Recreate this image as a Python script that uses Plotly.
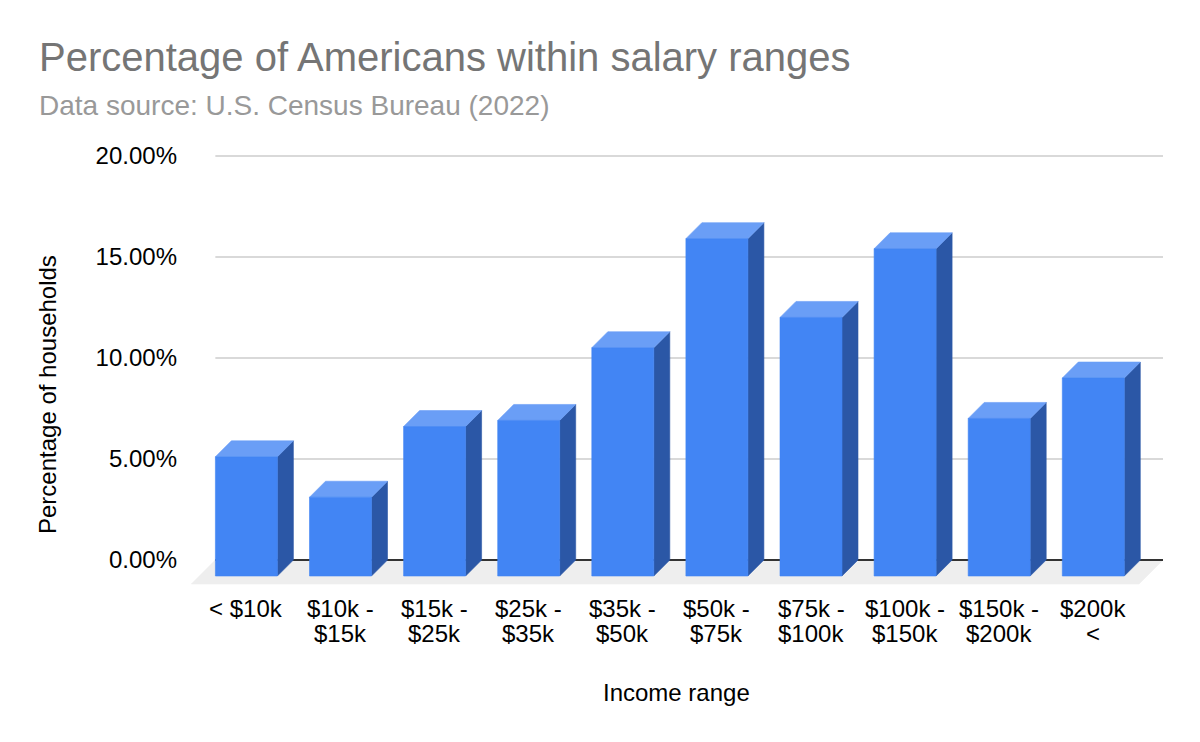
import plotly.graph_objects as go

# ---------------- data ----------------
categories = ["< $10k", "$10k - $15k", "$15k - $25k", "$25k - $35k", "$35k - $50k",
              "$50k - $75k", "$75k - $100k", "$100k - $150k", "$150k - $200k", "$200k <"]
label_line1 = ["< $10k", "$10k -", "$15k -", "$25k -", "$35k -",
               "$50k -", "$75k -", "$100k -", "$150k -", "$200k"]
label_line2 = ["", "$15k", "$25k", "$35k", "$50k",
               "$75k", "$100k", "$150k", "$200k", "<"]
values = [5.9, 3.9, 7.4, 7.7, 11.3, 16.7, 12.8, 16.2, 7.8, 9.8]
y_ticks = [0, 5, 10, 15, 20]
y_tick_labels = [f"{v:.2f}%" for v in y_ticks]

title_text = "Percentage of Americans within salary ranges"
subtitle_text = "Data source: U.S. Census Bureau (2022)"
x_title = "Income range"
y_title = "Percentage of households"

# ---------------- geometry / style (pixels, in screenshot coordinates) ----------------
PAGE_OFFSET = 8                            # browser body margin
W, H = 1200 - PAGE_OFFSET, 742 - PAGE_OFFSET
PL, PR, PT, PB = 190, 1163, 155, 585      # plot area in screenshot px
CAT_PX = 94.1                              # px per category
CAT0_PX = 262.4                            # px of category 0 centre (back plane)
Y0_PX = 560.0                              # px of 0%
Y_PX_PER = 20.2                            # px per 1%
BAR_HALF_PX = 31
DEPTH_PX = 16
FLOOR_PX = 24

FRONT = "#4285F4"
TOP = "#6A9EF6"
SIDE = "#2B57A6"
FLOOR = "#EEEEEE"
GRID = "#CCCCCC"
FONT = "Liberation Sans, Arial, Helvetica, sans-serif"

def px_to_x(px):
    return (px - CAT0_PX) / CAT_PX

def py_to_y(py):
    return (Y0_PX - py) / Y_PX_PER

xr = [px_to_x(PL), px_to_x(PR)]
yr = [py_to_y(PB), py_to_y(PT)]
hw = BAR_HALF_PX / CAT_PX
dx = DEPTH_PX / CAT_PX
dy = DEPTH_PX / Y_PX_PER
fdx = FLOOR_PX / CAT_PX
fdy = FLOOR_PX / Y_PX_PER
x_left = -0.5
x_right = xr[1]

fig = go.Figure()

def poly(xs, ys, color):
    fig.add_trace(go.Scatter(x=xs + [xs[0]], y=ys + [ys[0]], mode="lines",
                             fill="toself", fillcolor=color,
                             line=dict(color=color, width=0.6),
                             hoverinfo="skip", showlegend=False))

# floor
poly([x_left, x_right, x_right - fdx, x_left - fdx], [0, 0, -fdy, -fdy], FLOOR)

# gridlines
for t in y_ticks[1:]:
    fig.add_trace(go.Scatter(x=[x_left, x_right], y=[t, t], mode="lines",
                             line=dict(color=GRID, width=1.5),
                             hoverinfo="skip", showlegend=False))
# baseline
fig.add_trace(go.Scatter(x=[x_left, x_right], y=[0, 0], mode="lines",
                         line=dict(color="#333333", width=2),
                         hoverinfo="skip", showlegend=False))

# bars
for i, v in enumerate(values):
    l, r = i - hw, i + hw
    poly([r - dx, r, r, r - dx], [-dy, 0, v, v - dy], SIDE)          # side face
    poly([l - dx, r - dx, r, l], [v - dy, v - dy, v, v], TOP)        # top face
    poly([l - dx, r - dx, r - dx, l - dx], [-dy, -dy, v - dy, v - dy], FRONT)  # front
    fig.add_trace(go.Scatter(x=[i - dx], y=[v - dy / 2], mode="markers",
                             marker=dict(size=1, opacity=0),
                             hovertemplate=f"{categories[i]}: {v:.2f}%<extra></extra>",
                             showlegend=False))

pw, ph = PR - PL, PB - PT
def paper_x(px):
    return (px - PL) / pw
def paper_y(py):
    return (PB - py) / ph

annotations = []
# x category labels
for i in range(len(categories)):
    annotations.append(dict(x=i - dx, y=paper_y(608), xref="x", yref="paper",
                            text=label_line1[i], showarrow=False,
                            xanchor="center", yanchor="middle",
                            font=dict(size=24, color="#000000", family=FONT)))
    if label_line2[i]:
        annotations.append(dict(x=i - dx, y=paper_y(633), xref="x", yref="paper",
                                text=label_line2[i], showarrow=False,
                                xanchor="center", yanchor="middle",
                                font=dict(size=24, color="#000000", family=FONT)))

annotations += [
    dict(x=paper_x(37), y=paper_y(57), xref="paper", yref="paper", text=title_text,
         showarrow=False, xanchor="left", yanchor="middle",
         font=dict(size=40, color="#757575", family=FONT)),
    dict(x=paper_x(37), y=paper_y(105), xref="paper", yref="paper", text=subtitle_text,
         showarrow=False, xanchor="left", yanchor="middle",
         font=dict(size=28, color="#999999", family=FONT)),
    dict(x=paper_x(676), y=paper_y(692), xref="paper", yref="paper", text=x_title,
         showarrow=False, xanchor="center", yanchor="middle",
         font=dict(size=24, color="#000000", family=FONT)),
    dict(x=paper_x(47), y=paper_y(395), xref="paper", yref="paper", text=y_title,
         showarrow=False, xanchor="center", yanchor="middle", textangle=-90,
         font=dict(size=24, color="#000000", family=FONT)),
]

fig.update_layout(
    width=W, height=H,
    margin=dict(l=PL - PAGE_OFFSET, r=W - (PR - PAGE_OFFSET),
                t=PT - PAGE_OFFSET, b=H - (PB - PAGE_OFFSET), pad=0),
    paper_bgcolor="white", plot_bgcolor="white",
    xaxis=dict(range=xr, showgrid=False, zeroline=False, showline=False,
               showticklabels=False, ticks="", fixedrange=True),
    yaxis=dict(range=yr, showgrid=False, zeroline=False, showline=False,
               tickmode="array", tickvals=y_ticks, ticktext=y_tick_labels,
               ticks="", ticklabelstandoff=12,
               tickfont=dict(size=24, color="#000000", family=FONT), fixedrange=True),
    annotations=annotations,
    showlegend=False,
)

fig.write_html("out.html")
